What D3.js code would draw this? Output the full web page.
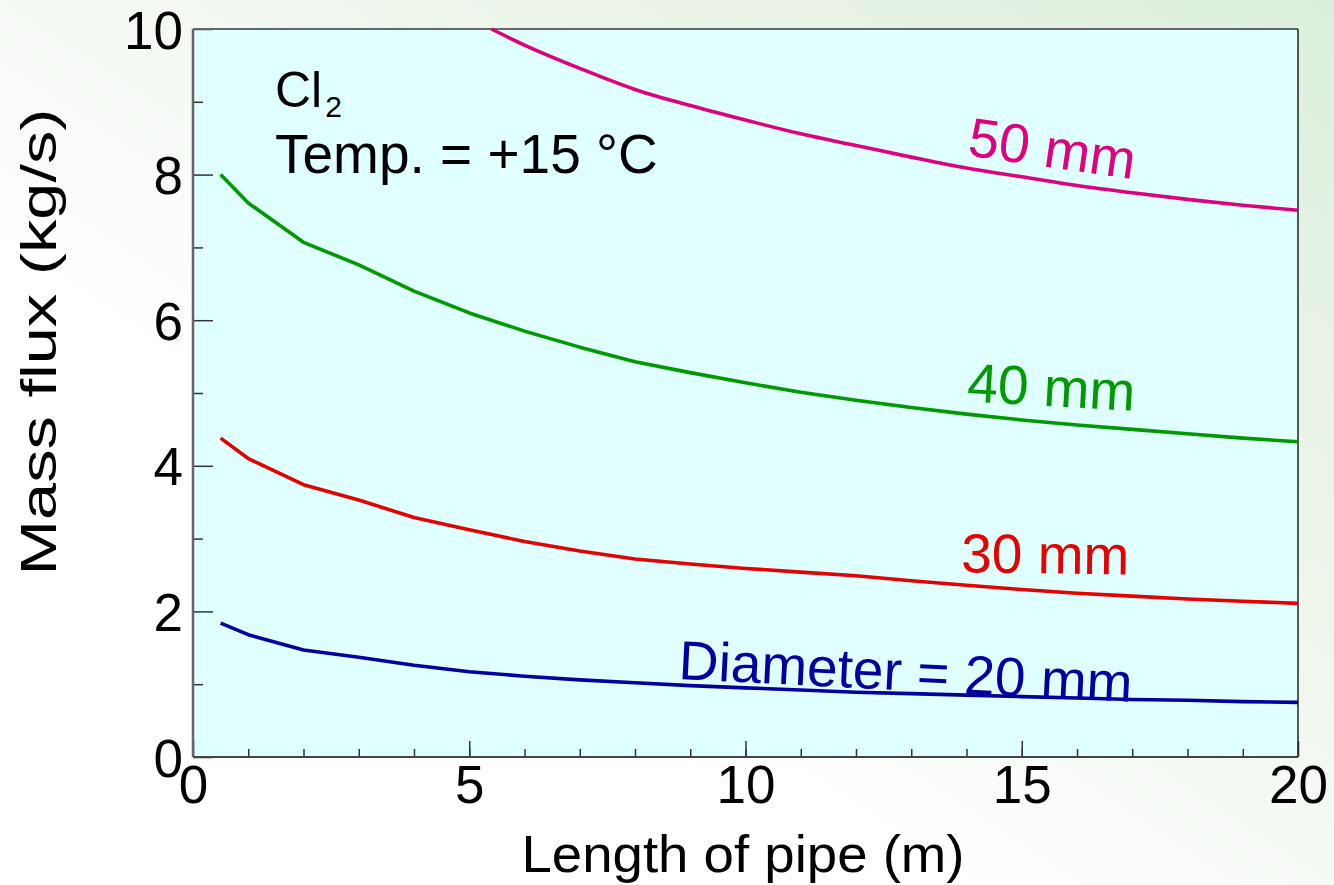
<!DOCTYPE html>
<html>
<head>
<meta charset="utf-8">
<script src="https://cdn.jsdelivr.net/npm/d3@7"></script>
<style>
  body { margin: 0; background: #fff; }
  svg { display: block; }
</style>
</head>
<body>
<div id="chart"></div>
<script>
// Mass flux vs length of pipe, Cl2 at +15 C

// Data
var pipeLength = [0.5, 1, 2, 3, 4, 5, 6, 7, 8, 9, 10, 11, 12, 13, 14, 15, 16, 17, 18, 19, 20];
var flux20 = [1.84, 1.68, 1.47, 1.37, 1.26, 1.17, 1.11, 1.06, 1.02, 0.98, 0.95, 0.92, 0.89, 0.87, 0.85, 0.83, 0.81, 0.79, 0.78, 0.76, 0.75];
var flux30 = [4.38, 4.10, 3.74, 3.53, 3.29, 3.12, 2.96, 2.83, 2.72, 2.65, 2.59, 2.54, 2.49, 2.42, 2.36, 2.30, 2.25, 2.21, 2.17, 2.14, 2.11];
var flux40 = [8.00, 7.61, 7.07, 6.76, 6.40, 6.10, 5.85, 5.63, 5.43, 5.28, 5.14, 5.01, 4.90, 4.80, 4.71, 4.63, 4.56, 4.50, 4.44, 4.38, 4.33];
var pipeLength50 = [5.4, 6, 7, 8, 9, 10, 11, 12, 13, 14, 15, 16, 17, 18, 19, 20];
var flux50 = [10.0, 9.78, 9.46, 9.17, 8.95, 8.75, 8.56, 8.40, 8.24, 8.09, 7.97, 7.85, 7.75, 7.66, 7.58, 7.51];

var xTicks = [0, 5, 10, 15, 20];
var yTicks = [0, 2, 4, 6, 8, 10];

// Set up the dimensions
var svgWidth = 1334;
var svgHeight = 885;
var margin = {top: 29, right: 36, bottom: 128, left: 193};
var width = svgWidth - margin.left - margin.right;
var height = svgHeight - margin.top - margin.bottom;

var svg = d3.select("#chart")
    .append("svg")
    .attr("width", svgWidth)
    .attr("height", svgHeight)
    .style("font-family", "'Liberation Sans', Arial, sans-serif");

// pale green backdrop fading in from the right
var defs = svg.append("defs");
var grad = defs.append("linearGradient")
    .attr("id", "bg")
    .attr("x1", "0%").attr("y1", "100%")
    .attr("x2", "100%").attr("y2", "0%");
grad.append("stop").attr("offset", "0%").attr("stop-color", "#ffffff");
grad.append("stop").attr("offset", "35%").attr("stop-color", "#ffffff");
grad.append("stop").attr("offset", "65%").attr("stop-color", "#eef6ec");
grad.append("stop").attr("offset", "100%").attr("stop-color", "#dcefdc");

svg.append("rect")
    .attr("width", svgWidth)
    .attr("height", svgHeight)
    .attr("fill", "url(#bg)");

var chartGroup = svg.append("g")
    .attr("transform", "translate(" + margin.left + "," + margin.top + ")");

// scales
var xScale = d3.scaleLinear().domain([0, 20]).range([0, width]);
var yScale = d3.scaleLinear().domain([0, 10]).range([height, 0]);

// plot background
chartGroup.append("rect")
    .attr("width", width)
    .attr("height", height)
    .attr("fill", "#e0ffff");

// minor ticks (inside)
var xMinor = d3.axisBottom(xScale).tickValues(d3.range(1, 20)).tickSize(-8).tickFormat("");
var yMinor = d3.axisLeft(yScale).tickValues(d3.range(1, 10, 2)).tickSize(-10).tickFormat("");

chartGroup.append("g")
    .attr("class", "xminor")
    .attr("transform", "translate(0," + height + ")")
    .call(xMinor);
chartGroup.append("g")
    .attr("class", "yminor")
    .call(yMinor);

// major axes
var bottomAxis = d3.axisBottom(xScale).tickValues(xTicks).tickSize(-16).tickPadding(22);
var leftAxis = d3.axisLeft(yScale).tickValues(yTicks).tickSize(-20).tickPadding(10);

chartGroup.append("g")
    .attr("class", "x")
    .attr("transform", "translate(0," + height + ")")
    .call(bottomAxis);
chartGroup.append("g")
    .attr("class", "y")
    .call(leftAxis);

chartGroup.selectAll(".x text, .y text")
    .attr("font-size", "53px")
    .attr("font-family", "'Liberation Sans', Arial, sans-serif")
    .attr("fill", "#000");
chartGroup.selectAll(".x text").attr("dy", "0.45em");
chartGroup.selectAll(".y text").attr("dy", "0.36em");
chartGroup.selectAll(".tick line").attr("stroke", "#333").attr("stroke-width", 1.5);
chartGroup.selectAll(".domain").remove();

// frame
chartGroup.append("line")
    .attr("x1", 0).attr("x2", width).attr("y1", 0).attr("y2", 0)
    .attr("stroke", "#666").attr("stroke-width", 2);
chartGroup.append("line")
    .attr("x1", width).attr("x2", width).attr("y1", 0).attr("y2", height)
    .attr("stroke", "#222").attr("stroke-width", 1.5);
chartGroup.append("line")
    .attr("x1", 0).attr("x2", 0).attr("y1", 0).attr("y2", height)
    .attr("stroke", "#666").attr("stroke-width", 2.5);
chartGroup.append("line")
    .attr("x1", 0).attr("x2", width).attr("y1", height).attr("y2", height)
    .attr("stroke", "#444").attr("stroke-width", 2);

// curves
var series = [
    {xs: pipeLength, ys: flux20, color: "#0000a0", curve: d3.curveLinear},
    {xs: pipeLength, ys: flux30, color: "#e60000", curve: d3.curveLinear},
    {xs: pipeLength, ys: flux40, color: "#009900", curve: d3.curveLinear},
    {xs: pipeLength50, ys: flux50, color: "#e0007f", curve: d3.curveMonotoneX}
];

series.forEach(function(s) {
    var line = d3.line()
        .curve(s.curve)
        .x(d => xScale(d[0]))
        .y(d => yScale(d[1]));
    chartGroup.append("path")
        .datum(s.xs.map((v, i) => [v, s.ys[i]]))
        .attr("d", line)
        .attr("fill", "none")
        .attr("stroke", s.color)
        .attr("stroke-width", 3.6)
        .attr("stroke-linejoin", "round");
});

// curve labels
var labels = [
    {text: "50 mm", x: 14.0, y: 8.1, dy: -12, angle: 8.2, color: "#e0007f"},
    {text: "40 mm", x: 14.0, y: 4.72, dy: -12, angle: 3.2, color: "#009900"},
    {text: "30 mm", x: 13.9, y: 2.36, dy: -13, angle: 0.8, color: "#e60000"},
    {text: "Diameter = 20 mm", x: 8.78, y: 0.99, dy: -6, angle: 2.9, color: "#0000a0"}
];

labels.forEach(function(l) {
    chartGroup.append("text")
        .attr("transform", "translate(" + xScale(l.x) + "," + (yScale(l.y) + l.dy) + ") rotate(" + l.angle + ")")
        .attr("font-size", "55px")
        .attr("fill", l.color)
        .text(l.text);
});

// annotation
var note = chartGroup.append("text")
    .attr("x", 82)
    .attr("y", 78)
    .attr("font-size", "50px")
    .attr("fill", "#000");
note.append("tspan").text("Cl");
note.append("tspan").attr("font-size", "30px").attr("dy", 10).attr("dx", 3).text("2");

chartGroup.append("text")
    .attr("x", 82)
    .attr("y", 144)
    .attr("font-size", "55px")
    .attr("fill", "#000")
    .text("Temp. = +15 °C");

// axis titles
svg.append("text")
    .attr("x", 743)
    .attr("y", 872)
    .attr("text-anchor", "middle")
    .attr("font-size", "52px")
    .attr("textLength", 443)
    .attr("lengthAdjust", "spacingAndGlyphs")
    .attr("fill", "#000")
    .text("Length of pipe (m)");

svg.append("text")
    .attr("transform", "translate(56,342) rotate(-90)")
    .attr("text-anchor", "middle")
    .attr("font-size", "50px")
    .attr("textLength", 467)
    .attr("lengthAdjust", "spacingAndGlyphs")
    .attr("fill", "#000")
    .text("Mass flux (kg/s)");
</script>
</body>
</html>
